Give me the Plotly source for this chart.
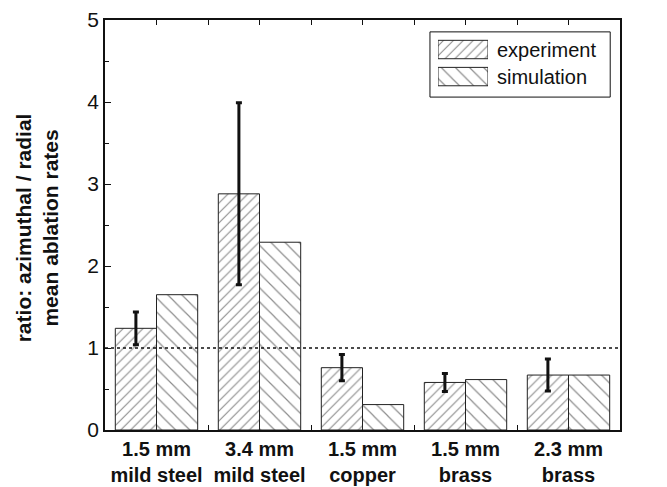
import plotly.graph_objects as go

categories = ["1.5 mm<br>mild steel", "3.4 mm<br>mild steel", "1.5 mm<br>copper", "1.5 mm<br>brass", "2.3 mm<br>brass"]
experiment = [1.24, 2.88, 0.76, 0.58, 0.67]
experiment_err = [0.20, 1.11, 0.16, 0.11, 0.195]
simulation = [1.65, 2.29, 0.31, 0.615, 0.67]
series_names = ["experiment", "simulation"]
series_hatch = ["/", "\\"]
hatch_size = [7, 10]
xpos = list(range(len(categories)))

FONT = "Liberation Sans, Arial, sans-serif"
INK = "#111"
HATCH = "#1a1a1a"

fig = go.Figure()
fig.add_trace(go.Bar(
    x=xpos, y=experiment, name=series_names[0], showlegend=False,
    marker=dict(color="white", line=dict(color="#222", width=1),
                pattern=dict(shape=series_hatch[0], fgcolor=HATCH, bgcolor="white", size=hatch_size[0], solidity=0.16)),
    error_y=dict(type="data", array=experiment_err, visible=True, color=INK, thickness=3, width=3),
))
fig.add_trace(go.Bar(
    x=xpos, y=simulation, name=series_names[1], showlegend=False,
    marker=dict(color="white", line=dict(color="#222", width=1),
                pattern=dict(shape=series_hatch[1], fgcolor=HATCH, bgcolor="white", size=hatch_size[1], solidity=0.12)),
))
# top axis ticks via an overlay axis
fig.add_trace(go.Scatter(x=[-0.5, 4.5], y=[None, None], xaxis="x2", showlegend=False, hoverinfo="skip"))

# custom legend swatches (wide hatched rectangles)
fig.add_trace(go.Bar(
    y=[0, 1], x=[1, 1], orientation="h", xaxis="x3", yaxis="y3", width=0.68, showlegend=False,
    hoverinfo="skip",
    marker=dict(color="white", line=dict(color="#222", width=1),
                pattern=dict(shape=series_hatch, fgcolor=HATCH, bgcolor="white", size=hatch_size,
                             solidity=[0.16, 0.12])),
))

fig.add_hline(y=1, line=dict(color=INK, width=1.5, dash="dot"))

# legend frame
fig.add_shape(type="rect", xref="paper", yref="paper", x0=0.631, x1=0.981, y0=0.812, y1=0.971,
              line=dict(color=INK, width=1), fillcolor="rgba(0,0,0,0)")
for i, name in enumerate(series_names):
    fig.add_annotation(xref="paper", yref="paper", x=0.757, y=[0.928, 0.862][i], text=name,
                       showarrow=False, xanchor="left", yanchor="middle",
                       font=dict(size=20, family=FONT, color=INK))

# y-axis title
fig.add_annotation(xref="paper", yref="paper", x=-0.132, y=0.492, textangle=-90,
                   text="<b>ratio: azimuthal / radial<br>mean ablation rates</b>",
                   showarrow=False, xanchor="center", yanchor="middle",
                   font=dict(size=21, family=FONT, color=INK))

fig.update_layout(
    width=667, height=487,
    margin=dict(l=105, r=47, t=20, b=57),
    plot_bgcolor="white", paper_bgcolor="white",
    barmode="group", bargap=0.2, bargroupgap=0,
    font=dict(family=FONT, color=INK),
    showlegend=False,
    xaxis=dict(range=[-0.5, 4.5], tickmode="array", tickvals=xpos, ticktext=categories,
               ticks="", showline=True, linecolor=INK, linewidth=1.5, mirror=True, automargin=False,
               tickfont=dict(size=20, family=FONT, weight="bold"),
               showgrid=False, zeroline=False,
               minor=dict(tickmode="array", tickvals=[0.5, 1.5, 2.5, 3.5], ticks="inside", ticklen=5, tickcolor=INK)),
    xaxis2=dict(overlaying="x", side="top", range=[-0.5, 4.5], tickmode="linear", tick0=0, dtick=0.5,
                automargin=False,
                ticks="inside", ticklen=5, tickcolor=INK, showticklabels=False, showgrid=False, zeroline=False),
    xaxis3=dict(domain=[0.6466, 0.7437], anchor="y3", range=[0, 1], visible=False, fixedrange=True),
    yaxis3=dict(domain=[0.829, 0.961], anchor="x3", range=[1.5, -0.5], visible=False, fixedrange=True),
    yaxis=dict(range=[0, 5], tickmode="linear", tick0=0, dtick=1, ticks="inside", ticklen=6,
               tickcolor=INK, showline=True, linecolor=INK, linewidth=1.5, mirror=True, automargin=False,
               tickfont=dict(size=21), showgrid=False, zeroline=False,
               minor=dict(dtick=0.5, ticks="inside", ticklen=4, tickcolor=INK)),
)
fig.write_html("out.html")
